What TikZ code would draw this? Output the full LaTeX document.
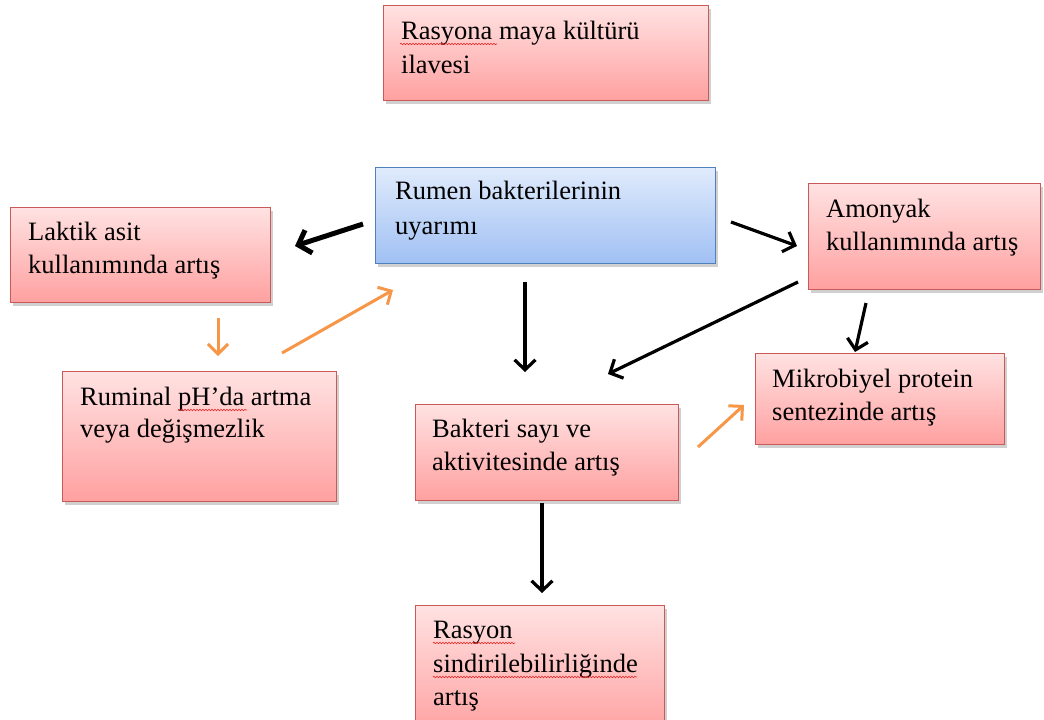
\documentclass[tikz,border=0pt]{standalone}
\usepackage{fontspec}
\setmainfont{Liberation Serif}
\usetikzlibrary{arrows.meta,shadows,decorations.pathmorphing}
\definecolor{pinktop}{RGB}{255,226,226}
\definecolor{pinkbot}{RGB}{255,160,160}
\definecolor{pinkbd}{RGB}{200,90,90}
\definecolor{bluetop}{RGB}{224,235,252}
\definecolor{bluebot}{RGB}{160,192,243}
\definecolor{bluebd}{RGB}{79,129,189}
\definecolor{orng}{RGB}{247,150,70}
\definecolor{spell}{RGB}{230,40,40}
\begin{document}
\begin{tikzpicture}[x=1pt,y=-1pt,
  shadowed/.style={drop shadow={shadow xshift=2pt,shadow yshift=-3pt,opacity=0.3,fill=black!60}},
  pbox/.style={shadowed,draw=pinkbd,line width=1.2pt,top color=pinktop,bottom color=pinkbot,inner sep=0pt,anchor=north west},
  bbox/.style={shadowed,draw=bluebd,line width=1.2pt,top color=bluetop,bottom color=bluebot,inner sep=0pt,anchor=north west},
  txt/.style={anchor=base west,inner sep=0pt,font=\fontsize{26.5}{33}\selectfont,text=black},
  blk/.style={draw=black,line width=3.2pt,-{Straight Barb[length=10pt,width=21pt]}},
  blkthick/.style={draw=black,line width=5pt,-{Straight Barb[length=11pt,width=24pt]}},
  org/.style={draw=orng,line width=3pt,-{Straight Barb[length=10pt,width=20pt]}},
  wavy/.style={draw=spell,line width=0.6pt,decorate,decoration={snake,segment length=3pt,amplitude=0.8pt}}
]
\fill[white] (0,0) rectangle (1044,720);
\useasboundingbox (0,0) rectangle (1044,720);
\clip (0,0) rectangle (1044,720);

% boxes
\node[pbox,minimum width=325pt,minimum height=95pt] (A) at (383,5) {};
\node[bbox,minimum width=340pt,minimum height=96pt] (B) at (375,167) {};
\node[pbox,minimum width=260pt,minimum height=95pt] (C) at (10,207) {};
\node[pbox,minimum width=232pt,minimum height=106pt] (D) at (808,183) {};
\node[pbox,minimum width=274pt,minimum height=130pt] (E) at (62,371) {};
\node[pbox,minimum width=263pt,minimum height=96pt] (F) at (415,404) {};
\node[pbox,minimum width=249pt,minimum height=91pt] (G) at (755,353) {};
\node[pbox,minimum width=249pt,minimum height=130pt] (H) at (415,605) {};

% texts
\node[txt] (A1) at (401,39) {Rasyona maya kültürü};
\node[txt] (A2) at (401,73) {ilavesi};
\node[txt] (B1) at (395,199) {Rumen bakterilerinin};
\node[txt] (B2) at (395,234) {uyarımı};
\node[txt] (C1) at (28,240) {Laktik asit};
\node[txt] (C2) at (28,273) {kullanımında artış};
\node[txt] (D1) at (826,217) {Amonyak};
\node[txt] (D2) at (826,250) {kullanımında artış};
\node[txt] (E1) at (80,405) {Ruminal pH’da artma};
\node[txt] (E2) at (80,437) {veya değişmezlik};
\node[txt] (F1) at (432,437) {Bakteri sayı ve};
\node[txt] (F2) at (432,470) {aktivitesinde artış};
\node[txt] (G1) at (772,387) {Mikrobiyel protein};
\node[txt] (G2) at (772,420) {sentezinde artış};
\node[txt] (H1) at (433,638) {Rasyon};
\node[txt] (H2) at (433,672) {sindirilebilirliğinde};
\node[txt] (H3) at (433,705) {artış};

% spelling underlines
\draw[wavy] (400,44) -- (497,44);
\draw[wavy] (178,410) -- (247,410);
\draw[wavy] (433,643) -- (515,643);
\draw[wavy] (433,677) -- (637,677);

% arrow end points
\coordinate (a1s) at (363,224); \coordinate (a1e) at (295,246);
\coordinate (a2s) at (731,222); \coordinate (a2e) at (797,246);
\coordinate (a3s) at (525,282); \coordinate (a3e) at (525,372);
\coordinate (a4s) at (798,282); \coordinate (a4e) at (608,374);
\coordinate (a5s) at (866,303); \coordinate (a5e) at (855,352);
\coordinate (a6s) at (218,318); \coordinate (a6e) at (218,356);
\coordinate (a7s) at (282,353); \coordinate (a7e) at (393,290);
\coordinate (a8s) at (698,447); \coordinate (a8e) at (744,405);
\coordinate (a9s) at (542,503); \coordinate (a9e) at (542,593);

\draw[blkthick] (a1s) -- (a1e);
\draw[blk] (a2s) -- (a2e);
\draw[blk] (a3s) -- (a3e);
\draw[blk] (a4s) -- (a4e);
\draw[blk] (a5s) -- (a5e);
\draw[org] (a6s) -- (a6e);
\draw[org] (a7s) -- (a7e);
\draw[org] (a8s) -- (a8e);
\draw[blk] (a9s) -- (a9e);
\end{tikzpicture}
\end{document}
